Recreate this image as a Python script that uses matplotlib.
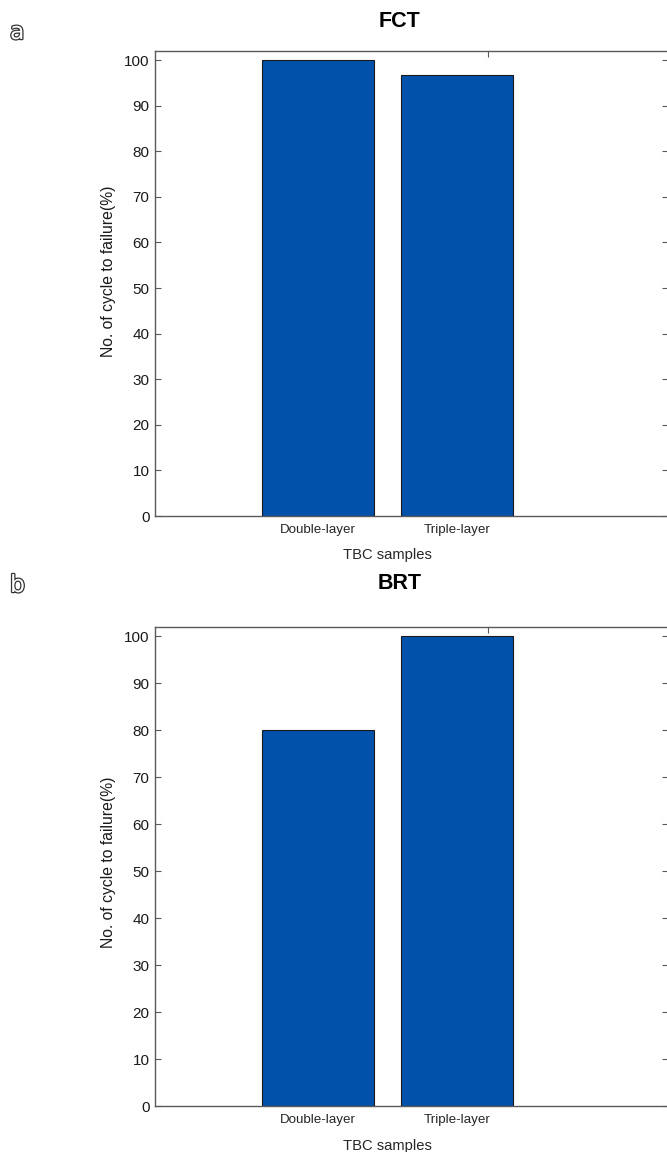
import matplotlib
matplotlib.use("Agg")
import matplotlib.pyplot as plt
import matplotlib.patheffects as pe

plt.rcParams['font.family'] = ['Liberation Sans', 'DejaVu Sans']

categories = ['Double-layer', 'Triple-layer']
fct_values = [100, 96.8]
brt_values = [80, 100]
titles = ['FCT', 'BRT']
panel_letters = ['a', 'b']
y_ticks = [0, 10, 20, 30, 40, 50, 60, 70, 80, 90, 100]

W, H = 667, 1152
fig = plt.figure(figsize=(W / 100, H / 100), dpi=100)

bar_color = '#0051AA'
spine_color = '#5a5a5a'

# axes boxes in pixels: (left, top, right, bottom)
boxes = [(155, 51, 668, 516), (155, 627, 668, 1106)]
letter_base = [(10, 39), (10, 592)]
title_y = [21.5, 583.5]
xlabel_y = [555.5, 1146]
ylabel_y = [271.5, 862]
label_cx = 387.5
title_cx = 399.5


def fx(px):
    return px / W


def fy(py):
    return 1 - py / H


for i, (vals, title) in enumerate(zip([fct_values, brt_values], titles)):
    l, t, r, b = boxes[i]
    ax = fig.add_axes([l / W, 1 - b / H, (r - l) / W, (b - t) / H])
    x = [1, 2]
    ax.bar(x, vals, width=0.8, color=bar_color, edgecolor='#1a1a1a', linewidth=0.8, zorder=2)
    ax.set_xlim(-0.173, 3.518)
    ax.set_ylim(0, 102)
    ax.set_xticks(x)
    ax.set_xticklabels(categories, fontsize=9.6, color='#262626')
    ax.set_yticks(y_ticks)
    ax.tick_params(axis='y', labelsize=11, colors=spine_color, labelcolor='#1a1a1a',
                   direction='in', length=4.5, width=0.8, right=True, pad=4)
    ax.tick_params(axis='x', colors=spine_color, labelcolor='#262626',
                   direction='in', length=4, width=0.8, pad=6)
    for s in ax.spines.values():
        s.set_color(spine_color)
        s.set_linewidth(1.0)
    sec = ax.secondary_xaxis('top')
    sec.set_xticks([2.22])
    sec.set_xticklabels([''])
    sec.tick_params(direction='in', length=4, width=0.8, colors=spine_color)
    sec.spines['top'].set_visible(False)

    fig.text(fx(109), fy(ylabel_y[i]), 'No. of cycle to failure(%)', fontsize=11.3,
             color='#1a1a1a', rotation=90, ha='center', va='center')
    fig.text(fx(label_cx), fy(xlabel_y[i]), 'TBC samples', fontsize=10.6,
             color='#262626', ha='center', va='center')
    fig.text(fx(title_cx), fy(title_y[i]), title, fontsize=15.5, fontweight='bold',
             color='black', ha='center', va='center')

    lx, ly = letter_base[i]
    fig.text(fx(lx), fy(ly), panel_letters[i], fontsize=17, color='white',
             family='DejaVu Sans', ha='left', va='baseline',
             path_effects=[pe.withStroke(linewidth=1.8, foreground='#333333')])

fig.savefig('out.png', dpi=100)
